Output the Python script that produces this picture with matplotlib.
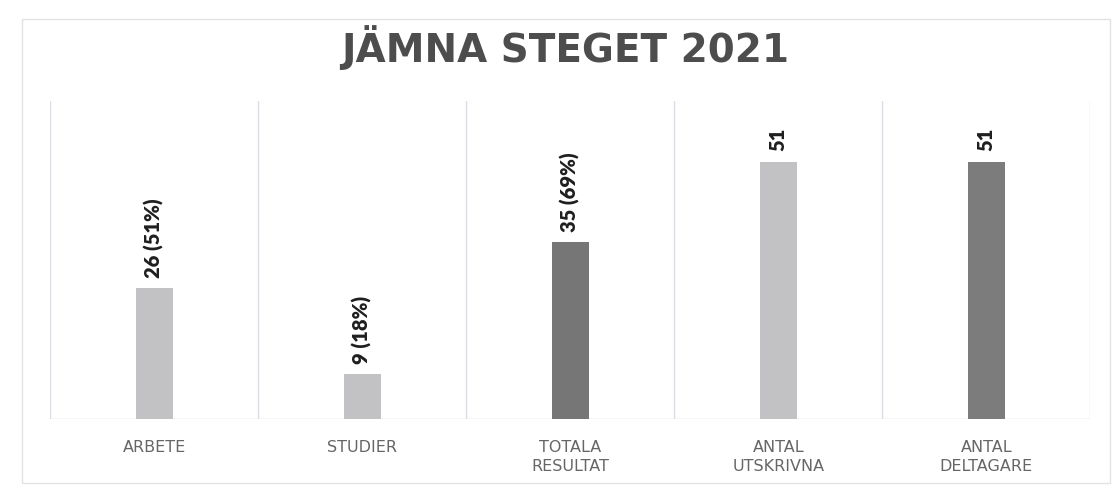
import matplotlib
matplotlib.use('Agg')
import matplotlib.pyplot as plt
from matplotlib.patches import Rectangle

categories = ['ARBETE', 'STUDIER', 'TOTALA\nRESULTAT', 'ANTAL\nUTSKRIVNA', 'ANTAL\nDELTAGARE']
values = [26, 9, 35, 51, 51]
value_labels = ['26 (51%)', '9 (18%)', '35 (69%)', '51', '51']
bar_colors = ['#c2c2c4', '#c2c2c4', '#767676', '#c2c2c4', '#7c7c7c']

plt.rcParams['font.family'] = ['Lato', 'DejaVu Sans']

fig = plt.figure(figsize=(11.16, 5.02), dpi=100)
fig.patch.set_facecolor('white')
ax = fig.add_axes([0.045, 0.163, 0.932, 0.634])

x = range(len(categories))
ax.bar(x, values, width=0.18, color=bar_colors, zorder=3)

for xi, v, lab in zip(x, values, value_labels):
    ax.annotate(lab, (xi, v), textcoords='offset points', xytext=(0, 8),
                rotation=90, ha='center', va='bottom', fontsize=14.5,
                fontweight='heavy', color='#1e1e1e')

ax.set_xlim(-0.5, len(categories) - 0.5)
ax.set_ylim(0, 63)
for b in [i - 0.5 for i in range(len(categories) + 1)]:
    ax.axvline(b, color='#dcdde3', linewidth=1.0, zorder=1)
ax.axhline(0, color='#d4d4d4', linewidth=1.0, zorder=2)

for s in ax.spines.values():
    s.set_visible(False)
ax.set_yticks([])
ax.set_xticks(list(x))
ax.set_xticklabels(categories, fontsize=11.5, color='#666666', linespacing=1.4,
                   family='DejaVu Sans')
ax.tick_params(axis='x', length=0, pad=14)

fig.text(0.506, 0.905, 'JÄMNA STEGET 2021', ha='center', va='center',
         fontsize=28, fontweight='bold', color='#4d4d4d', family='DejaVu Sans')

fig.add_artist(Rectangle((0.02, 0.035), 0.975, 0.925, transform=fig.transFigure,
                         fill=False, edgecolor='#e2e2e2', linewidth=1.0))

fig.savefig('out.png', dpi=100, facecolor='white')
